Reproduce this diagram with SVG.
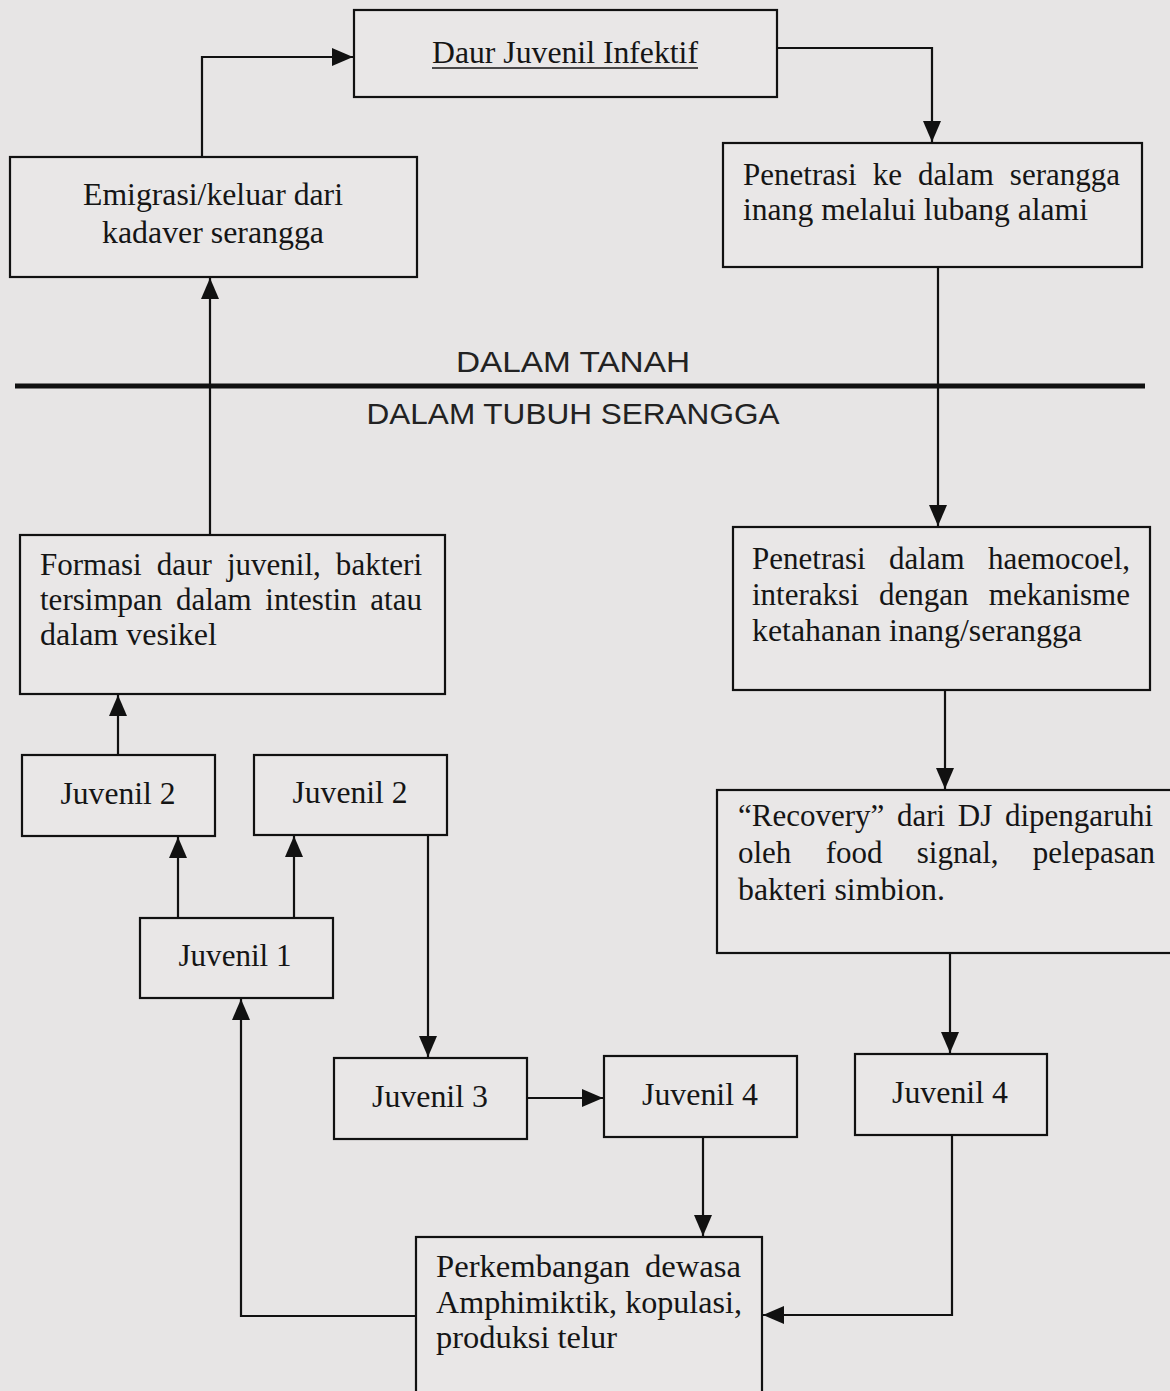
<svg xmlns="http://www.w3.org/2000/svg" width="1170" height="1391" viewBox="0 0 1170 1391">
<style>
.bg{fill:#e7e5e5}
.box{fill:#e9e7e7;stroke:#111;stroke-width:2.2}
.t{font-family:"Liberation Serif","Times New Roman",serif;font-size:31px;fill:#151515}
.c{text-anchor:middle}
.s{font-family:"Liberation Sans",Arial,sans-serif;font-size:30px;fill:#222}
.ln{fill:none;stroke:#111;stroke-width:2.2}
</style>
<defs>
<marker id="ah" markerUnits="userSpaceOnUse" markerWidth="22" markerHeight="18" refX="21" refY="9" orient="auto">
<path d="M0,0 L21,9 L0,18 Z" fill="#111"/>
</marker>
</defs>
<rect class="bg" x="0" y="0" width="1170" height="1391"/>

<g id="connectors">
<path class="ln" d="M202,157 V57 H353" marker-end="url(#ah)"/>
<path class="ln" d="M777,48 H932 V142" marker-end="url(#ah)"/>
<path class="ln" d="M938,267 V526" marker-end="url(#ah)"/>
<path class="ln" d="M945,690 V789" marker-end="url(#ah)"/>
<path class="ln" d="M950,953 V1053" marker-end="url(#ah)"/>
<path class="ln" d="M952,1135 V1315 H763" marker-end="url(#ah)"/>
<path class="ln" d="M527,1098 H603" marker-end="url(#ah)"/>
<path class="ln" d="M703,1137 V1236" marker-end="url(#ah)"/>
<path class="ln" d="M416,1316 H241 V999" marker-end="url(#ah)"/>
<path class="ln" d="M178,918 V837" marker-end="url(#ah)"/>
<path class="ln" d="M294,918 V836" marker-end="url(#ah)"/>
<path class="ln" d="M428,835 V1057" marker-end="url(#ah)"/>
<path class="ln" d="M118,755 V695" marker-end="url(#ah)"/>
<path class="ln" d="M210,535 V278" marker-end="url(#ah)"/>
</g>

<g id="divider">
<text class="s c" x="573" y="372" textLength="234" lengthAdjust="spacingAndGlyphs">DALAM TANAH</text>
<line x1="15" y1="386" x2="1145" y2="386" stroke="#111" stroke-width="5"/>
<text class="s c" x="573" y="424" textLength="413" lengthAdjust="spacingAndGlyphs">DALAM TUBUH SERANGGA</text>
</g>

<g id="daur">
<rect class="box" x="354" y="10" width="423" height="87"/>
<text class="t c" x="565" y="63" textLength="266" lengthAdjust="spacingAndGlyphs">Daur Juvenil Infektif</text>
<line x1="432" y1="68" x2="698" y2="68" stroke="#151515" stroke-width="1.6"/>
</g>

<g id="emigrasi">
<rect class="box" x="10" y="157" width="407" height="120"/>
<text class="t c" x="213" y="205" textLength="260" lengthAdjust="spacingAndGlyphs">Emigrasi/keluar dari</text>
<text class="t c" x="213" y="243" textLength="222" lengthAdjust="spacingAndGlyphs">kadaver serangga</text>
</g>

<g id="penetrasi">
<rect class="box" x="723" y="143" width="419" height="124"/>
<text class="t" x="743" y="185" word-spacing="8.3" textLength="377" lengthAdjust="spacingAndGlyphs">Penetrasi ke dalam serangga</text>
<text class="t" x="743" y="220" textLength="345" lengthAdjust="spacingAndGlyphs">inang melalui lubang alami</text>
</g>

<g id="formasi">
<rect class="box" x="20" y="535" width="425" height="159"/>
<text class="t" x="40" y="575" word-spacing="7.3" textLength="382" lengthAdjust="spacingAndGlyphs">Formasi daur juvenil, bakteri</text>
<text class="t" x="40" y="610" word-spacing="5.9" textLength="382" lengthAdjust="spacingAndGlyphs">tersimpan dalam intestin atau</text>
<text class="t" x="40" y="645" textLength="177" lengthAdjust="spacingAndGlyphs">dalam vesikel</text>
</g>

<g id="haemocoel">
<rect class="box" x="733" y="527" width="417" height="163"/>
<text class="t" x="752" y="569" word-spacing="15.5" textLength="378" lengthAdjust="spacingAndGlyphs">Penetrasi dalam haemocoel,</text>
<text class="t" x="752" y="605" word-spacing="12.5" textLength="378" lengthAdjust="spacingAndGlyphs">interaksi dengan mekanisme</text>
<text class="t" x="752" y="641" textLength="330" lengthAdjust="spacingAndGlyphs">ketahanan inang/serangga</text>
</g>

<g id="recovery">
<rect class="box" x="717" y="790" width="460" height="163"/>
<text class="t" x="738" y="826" word-spacing="4.9" textLength="415" lengthAdjust="spacingAndGlyphs">“Recovery” dari DJ dipengaruhi</text>
<text class="t" x="738" y="863" word-spacing="26.5" textLength="417" lengthAdjust="spacingAndGlyphs">oleh food signal, pelepasan</text>
<text class="t" x="738" y="900" textLength="207" lengthAdjust="spacingAndGlyphs">bakteri simbion.</text>
</g>

<g id="juvenil2a">
<rect class="box" x="22" y="755" width="193" height="81"/>
<text class="t c" x="118" y="804" textLength="115" lengthAdjust="spacingAndGlyphs">Juvenil 2</text>
</g>

<g id="juvenil2b">
<rect class="box" x="254" y="755" width="193" height="80"/>
<text class="t c" x="350" y="803" textLength="115" lengthAdjust="spacingAndGlyphs">Juvenil 2</text>
</g>

<g id="juvenil1">
<rect class="box" x="140" y="918" width="193" height="80"/>
<text class="t c" x="235" y="966" textLength="113" lengthAdjust="spacingAndGlyphs">Juvenil 1</text>
</g>

<g id="juvenil3">
<rect class="box" x="334" y="1058" width="193" height="81"/>
<text class="t c" x="430" y="1107" textLength="116" lengthAdjust="spacingAndGlyphs">Juvenil 3</text>
</g>

<g id="juvenil4a">
<rect class="box" x="604" y="1056" width="193" height="81"/>
<text class="t c" x="700" y="1105" textLength="116" lengthAdjust="spacingAndGlyphs">Juvenil 4</text>
</g>

<g id="juvenil4b">
<rect class="box" x="855" y="1054" width="192" height="81"/>
<text class="t c" x="950" y="1103" textLength="116" lengthAdjust="spacingAndGlyphs">Juvenil 4</text>
</g>

<g id="perkembangan">
<rect class="box" x="416" y="1237" width="346" height="170"/>
<text class="t" x="436" y="1277" word-spacing="6.3" textLength="305" lengthAdjust="spacingAndGlyphs">Perkembangan dewasa</text>
<text class="t" x="436" y="1313" textLength="306" lengthAdjust="spacingAndGlyphs">Amphimiktik, kopulasi,</text>
<text class="t" x="436" y="1348" textLength="181" lengthAdjust="spacingAndGlyphs">produksi telur</text>
</g>
</svg>
